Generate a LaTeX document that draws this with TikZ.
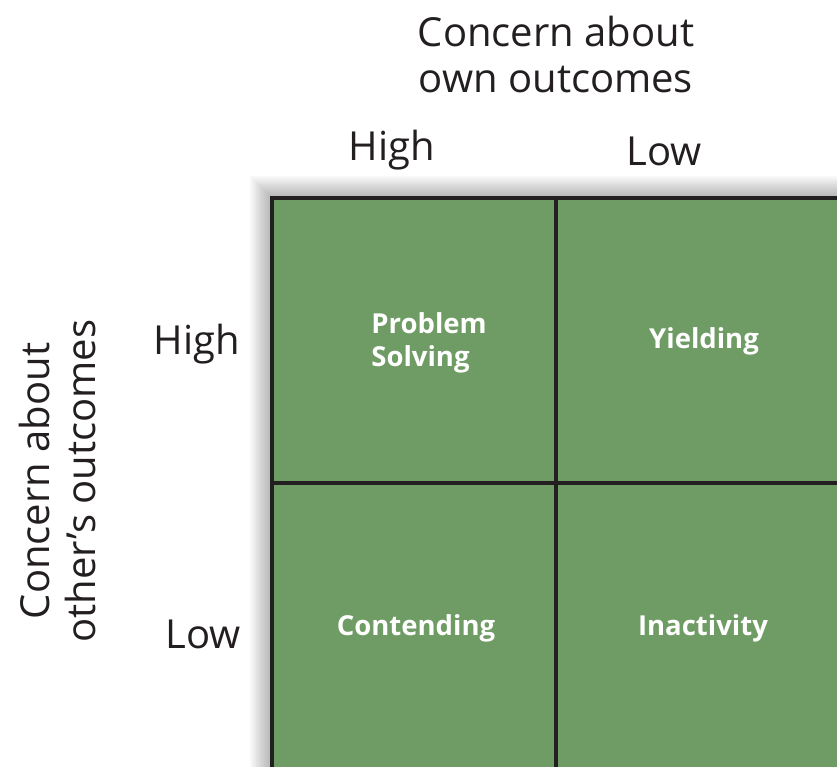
\documentclass[tikz,border=0pt]{standalone}
\usepackage{fontspec}
\setmainfont{Open Sans}
\usepackage{tikz}
\definecolor{gridgreen}{RGB}{111, 156, 100}
\definecolor{axisink}{RGB}{35, 31, 32}

\tikzset{
  axislabel/.style={axisink, font=\fontsize{40}{46}\selectfont, align=center, inner sep=0pt},
  celllabel/.style={white, font=\bfseries\fontsize{27.5}{33}\selectfont, align=left, inner sep=0pt},
}

\begin{document}
\begin{tikzpicture}[x=1pt, y=-1pt]
  \useasboundingbox[fill=white] (0,0) rectangle (837,767);
  % soft shadow round the grid
  \foreach \r in {2,4,...,22}
    \fill[black, opacity=0.028] (272-\r,198-\r) rectangle (845,775);
  % the four cells, running off the page at right and bottom
  \fill[gridgreen] (272,198) rectangle (845,775);
  \draw[axisink, line width=3.2pt] (556,198) -- (556,775);
  \draw[axisink, line width=3.2pt] (272,483) -- (845,483);
  \draw[axisink, line width=4.5pt] (845,198) -- (272,198) -- (272,775);
  % axis titles and levels
  \node[axislabel] (owntitle) at (556,55) {Concern about\\own outcomes};
  \node[axislabel, rotate=90] (othertitle) at (57,481) {Concern about\\other’s outcomes};
  \node[axislabel] (ownhigh) at (392,150) {High};
  \node[axislabel] (ownlow) at (664,151) {Low};
  \node[axislabel] (otherhigh) at (197,344) {High};
  \node[axislabel] (otherlow) at (203,634) {Low};
  % cell names
  \node[celllabel] (solving) at (429,343) {Problem\\Solving};
  \node[celllabel] (yielding) at (704,341) {Yielding};
  \node[celllabel] (contending) at (416,628) {Contending};
  \node[celllabel] (inactivity) at (703,628) {Inactivity};
\end{tikzpicture}
\end{document}
